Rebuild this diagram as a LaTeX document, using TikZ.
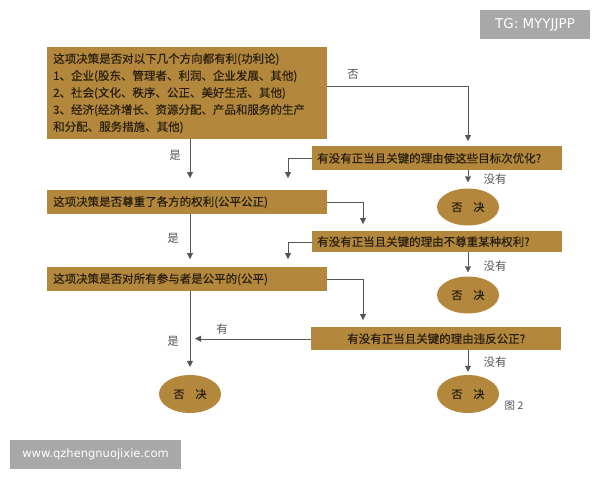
\documentclass[tikz,border=0pt]{standalone}
\usepackage{fontspec}
\setmainfont{Noto Sans CJK SC}
\newfontfamily\boxfont[FakeBold=0.4]{Noto Sans CJK SC}
\newfontfamily\wmfont{DejaVu Sans}
\usepackage{tikz}
\usetikzlibrary{calc, positioning, arrows.meta, shapes.geometric}
\definecolor{ochre}{RGB}{180,136,60}
\definecolor{inkbrown}{RGB}{40,30,15}
\definecolor{linegray}{RGB}{85,85,85}
\definecolor{markgray}{RGB}{168,168,168}
\tikzset{
    testbox/.style={rectangle, fill=ochre, text=inkbrown, minimum height=23pt, text width=268pt, align=left, inner sep=6pt, font=\boxfont\fontsize{11.5}{17}\selectfont},
    question/.style={rectangle, fill=ochre, text=inkbrown, minimum height=23pt, text width=240pt, align=left, inner sep=5pt, font=\boxfont\fontsize{11.5}{14}\selectfont},
    veto/.style={ellipse, fill=ochre, text=inkbrown, minimum width=62pt, minimum height=37pt, inner sep=0pt, font=\boxfont\fontsize{11}{13}\selectfont},
    arrow/.style={-{Triangle[length=6pt, width=6pt]}, linegray, thin},
    answer/.style={text=linegray, font=\fontsize{11.5}{13}\selectfont},
    wmbox/.style={rectangle, fill=markgray, text=white, inner sep=0pt}
}

\begin{document}
\begin{tikzpicture}[x=1pt, y=-1pt]
    \useasboundingbox (0,0) rectangle (600,480);

    % Columns of the connectors
    \coordinate (colL) at (190,0);
    \coordinate (colM) at (288,0);
    \coordinate (colN) at (363,0);
    \coordinate (colR) at (468,0);

    % Tests (left column)
    \node[testbox, anchor=north west, minimum height=85pt] (b1) at (47,47)
        {这项决策是否对以下几个方向都有利(功利论)\\
         1、企业(股东、管理者、利润、企业发展、其他)\\
         2、社会(文化、秩序、公正、美好生活、其他)\\
         3、经济(经济增长、资源分配、产品和服务的生产\\
         和分配、服务措施、其他)};
    \node[testbox, anchor=north west] (b3) at (47,190) {这项决策是否尊重了各方的权利(公平公正)};
    \node[testbox, anchor=north west] (b5) at (47,267) {这项决策是否对所有参与者是公平的(公平)};

    % Questions (right column)
    \node[question, anchor=north west, minimum height=24pt] (q1) at (312,146) {有没有正当且关键的理由使这些目标次优化?};
    \node[question, anchor=north west, minimum height=21pt] (q2) at (312,231) {有没有正当且关键的理由不尊重某种权利?};
    \node[question, anchor=north west, align=center] (q3) at (311,327) {有没有正当且关键的理由违反公正?};

    % Vetoes
    \node[veto] (o1) at (468,207) {否\quad 决};
    \node[veto] (o2) at (468,295) {否\quad 决};
    \node[veto, minimum height=38pt] (o3) at (468,394) {否\quad 决};
    \node[veto, minimum height=38pt] (o4) at (190,394) {否\quad 决};

    % Connectors
    \draw[arrow, shorten >=12pt] (b1.south -| colL) -- (b3.north -| colL);
    \draw[arrow, shorten >=5pt] ([yshift=6.5pt]b1.east) -| (q1.north -| colR);
    \draw[arrow, shorten >=12pt] (q1.west) -| (b3.north -| colM);
    \draw[arrow, shorten >=6pt] (q1.south -| colR) -- (o1.north);
    \draw[arrow, shorten >=8pt] (b3.south -| colL) -- (b5.north -| colL);
    \draw[arrow, shorten >=7pt] (b3.east) -| (q2.north -| colN);
    \draw[arrow, shorten >=8pt] (q2.west) -| (b5.north -| colM);
    \draw[arrow, shorten >=4pt] (q2.south -| colR) -- (o2.north);
    \draw[arrow, shorten >=8pt] (b5.south -| colL) -- (o4.north);
    \draw[arrow, shorten >=7pt] (b5.east) -| (q3.north -| colN);
    \draw[arrow, shorten >=5pt] (q3.west) -- (q3.west -| colL);
    \draw[arrow, shorten >=3pt] (q3.south -| colR) -- (o3.north);

    % Answers
    \node[answer] (yes1) at (175,155) {是};
    \node[answer] (no1) at (353,74) {否};
    \node[answer] (none1) at (495,179) {没有};
    \node[answer] (yes2) at (173,238) {是};
    \node[answer] (none2) at (495,266) {没有};
    \node[answer] (yes3) at (173,341) {是};
    \node[answer] (has3) at (222,329) {有};
    \node[answer] (none3) at (495,362) {没有};
    \node[answer, font=\fontsize{10.5}{12}\selectfont] (fig) at (514,406) {图 2};

    % Watermarks
    \node[wmbox, minimum width=110pt, minimum height=29pt, font=\wmfont\fontsize{13.5}{15}\selectfont] (tg) at (535,24.5) {TG: MYYJJPP};
    \node[wmbox, minimum width=171pt, minimum height=29pt, font=\wmfont\fontsize{11.5}{13}\selectfont] (www) at (95.5,454.5) {www.qzhengnuojixie.com};
\end{tikzpicture}
\end{document}
